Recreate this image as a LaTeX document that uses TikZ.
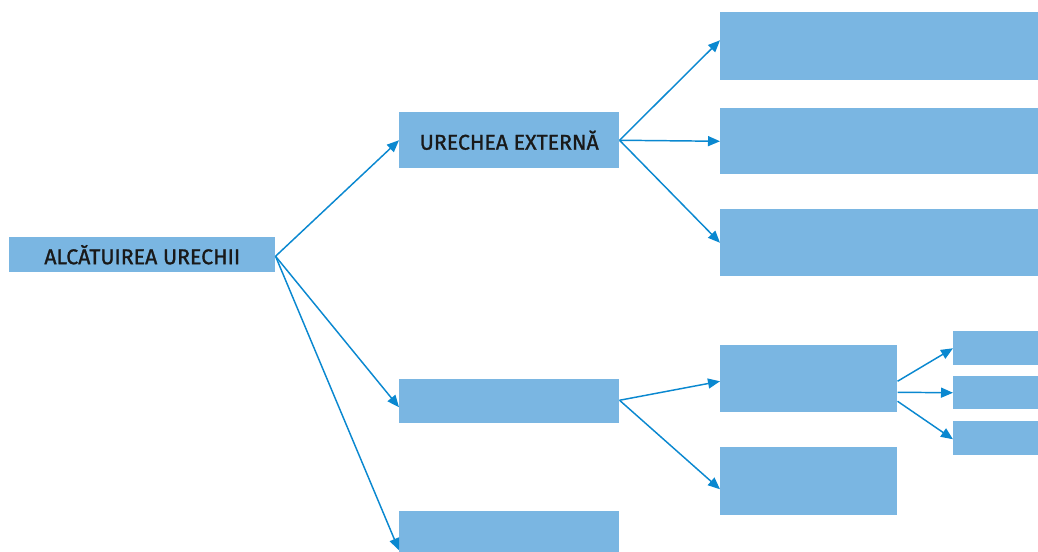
\documentclass[tikz,border=0pt]{standalone}
\usepackage{fontspec}
\setmainfont{Fira Sans}
\newfontfamily\labelfont[FakeBold=1.2]{Fira Sans}
\usetikzlibrary{arrows.meta}
\definecolor{boxblue}{HTML}{7AB6E2}
\definecolor{linkblue}{HTML}{0A88D0}
\begin{document}
\begin{tikzpicture}[x=0.75pt,y=-0.75pt,
  box/.style={fill=boxblue,draw=none,inner sep=0pt,anchor=north west,
    font=\labelfont\fontsize{16pt}{18pt}\selectfont,text=black!90},
  link/.style={draw=linkblue,line width=1.1pt,
    -{Triangle[length=9pt,width=7.5pt]}}]
\clip (0,0) rectangle (1038,552);
\useasboundingbox (0,0) rectangle (1038,552);
% root
\node[box,minimum width=266*0.75pt,minimum height=35*0.75pt] (root) at (9,237) {ALCĂTUIREA URECHII};
% second level
\node[box,minimum width=220*0.75pt,minimum height=56*0.75pt] (ext) at (399,112) {URECHEA EXTERNĂ};
\node[box,minimum width=220*0.75pt,minimum height=44*0.75pt] (mid) at (399,379) {};
\node[box,minimum width=220*0.75pt,minimum height=76*0.75pt] (inn) at (399,511) {};
% third level
\node[box,minimum width=318*0.75pt,minimum height=68*0.75pt] (e1) at (720,12) {};
\node[box,minimum width=318*0.75pt,minimum height=66*0.75pt] (e2) at (720,108) {};
\node[box,minimum width=318*0.75pt,minimum height=67*0.75pt] (e3) at (720,209) {};
\node[box,minimum width=177*0.75pt,minimum height=67*0.75pt] (f1) at (720,345) {};
\node[box,minimum width=177*0.75pt,minimum height=68*0.75pt] (f2) at (720,447) {};
% fourth level
\node[box,minimum width=85*0.75pt,minimum height=34*0.75pt] (g1) at (953,331) {};
\node[box,minimum width=85*0.75pt,minimum height=33*0.75pt] (g2) at (953,376) {};
\node[box,minimum width=85*0.75pt,minimum height=34*0.75pt] (g3) at (953,421) {};
% connectors
\coordinate (r) at ([yshift=-1.5*0.75pt]root.east);
\draw[link] (r) -- (ext.west);
\draw[link] (r) -- ([yshift=-6*0.75pt]mid.west);
\draw[link] (r) -- ([yshift=-1*0.75pt]inn.west);
\draw[link] (ext.east) -- ([yshift=6*0.75pt]e1.west);
\draw[link] (ext.east) -- (e2.west);
\draw[link] (ext.east) -- (e3.west);
\draw[link] ([yshift=1*0.75pt]mid.east) -- ([yshift=-2.5*0.75pt]f1.west);
\draw[link] ([yshift=1*0.75pt]mid.east) -- ([yshift=-8*0.75pt]f2.west);
\draw[link] ([yshift=-2.5*0.75pt]f1.east) -- (g1.west);
\draw[link] ([yshift=-13.5*0.75pt]f1.east) -- (g2.west);
\draw[link] ([yshift=-22.5*0.75pt]f1.east) -- ([yshift=-1*0.75pt]g3.west);
\end{tikzpicture}
\end{document}
